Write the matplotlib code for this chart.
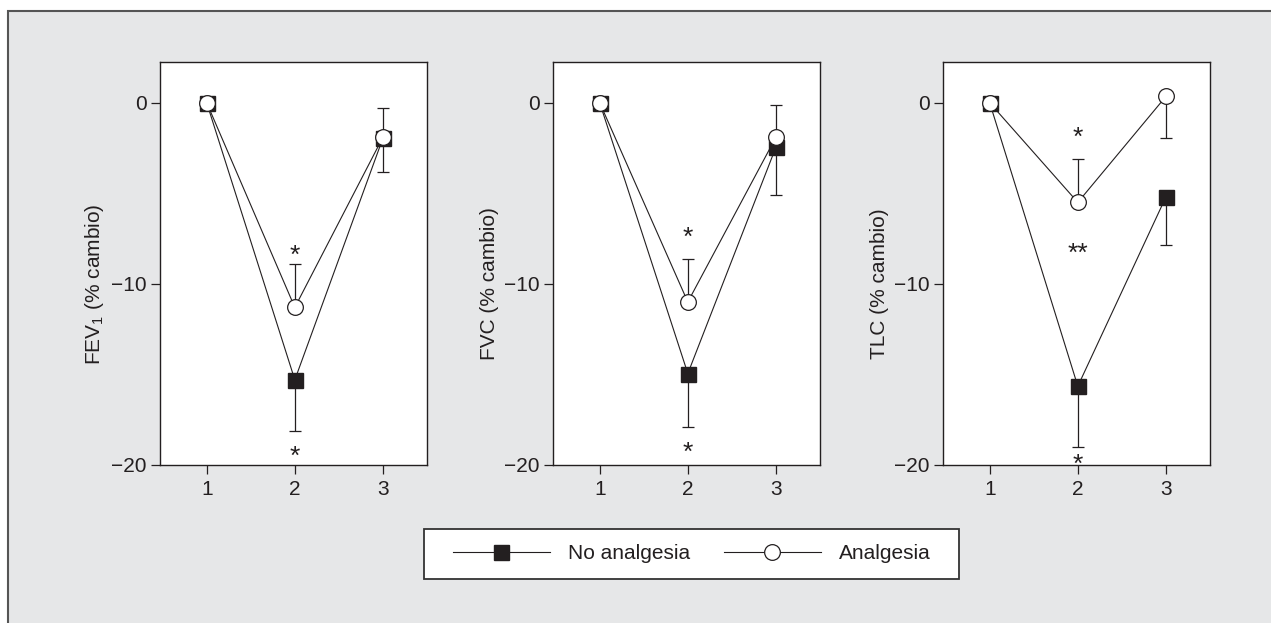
import numpy as np
import matplotlib
matplotlib.use("Agg")
import matplotlib.pyplot as plt
import matplotlib.transforms as mtransforms
from matplotlib.patches import Rectangle
from matplotlib.lines import Line2D

plt.rcParams['font.family'] = ['Liberation Sans', 'DejaVu Sans']
plt.rcParams['mathtext.fontset'] = 'custom'
plt.rcParams['mathtext.rm'] = 'Liberation Sans'
plt.rcParams['axes.unicode_minus'] = True

# Data
x = [1, 2, 3]
titles = ['FEV$_\\mathregular{1}$ (% cambio)', 'FVC (% cambio)', 'TLC (% cambio)']

# No analgesia (filled squares), error bars pointing down
fev1_no = [0, -15.3, -1.95]
fvc_no = [0, -14.95, -2.45]
tlc_no = [0, -15.65, -5.2]
fev1_no_err = [0, 2.8, 1.85]
fvc_no_err = [0, 2.95, 2.65]
tlc_no_err = [0, 3.35, 2.65]

# Analgesia (open circles)
fev1_an = [0, -11.3, -1.9]
fvc_an = [0, -11.0, -1.9]
tlc_an = [0, -5.5, 0.35]
fev1_an_up = [0, 2.4, 1.6]
fvc_an_up = [0, 2.4, 1.8]
tlc_an_up = [0, 2.4, 0]
fev1_an_down = [0, 0, 0]
fvc_an_down = [0, 0, 0]
tlc_an_down = [0, 0, 2.3]

# significance marks: (x, y, text)
fev1_marks = [(2, -8.0, '*'), (2, -19.1, '*')]
fvc_marks = [(2, -7.0, '*'), (2, -18.9, '*')]
tlc_marks = [(2, -1.5, '*'), (2, -7.9, '**'), (2, -19.55, '*')]

ink = '#231f20'
bg = '#e6e7e8'
fs = 15
star_fs = 19

W, H = 1271, 623
fig = plt.figure(figsize=(W / 100, H / 100), dpi=100)
fig.patch.set_facecolor('white')

# grey frame behind everything
fig.add_artist(Rectangle((8 / W, -0.2), 1.2, 1.2 - 10.7 / H, transform=fig.transFigure,
                         facecolor=bg, edgecolor='#555555', lw=1.5, zorder=-5))

panels = [
    (fev1_no, fev1_no_err, fev1_an, fev1_an_down, fev1_an_up, fev1_marks),
    (fvc_no, fvc_no_err, fvc_an, fvc_an_down, fvc_an_up, fvc_marks),
    (tlc_no, tlc_no_err, tlc_an, tlc_an_down, tlc_an_up, tlc_marks),
]
lefts = [160, 553, 943]

for left, title, (no, no_err, an, an_lo, an_hi, marks) in zip(lefts, titles, panels):
    ax = fig.add_axes([left / W, 1 - 465 / H, 267 / W, 403 / H])
    ax.set_facecolor('white')

    ax.errorbar(x, no, yerr=[no_err, [0, 0, 0]], fmt='-', color=ink, lw=0.8,
                marker='s', ms=10.8, mfc=ink, mec=ink, capsize=4.6, elinewidth=0.9,
                capthick=0.9, zorder=3)
    ax.errorbar(x, an, yerr=[an_lo, an_hi], fmt='-', color=ink, lw=0.8,
                marker='o', ms=11.3, mfc='white', mec=ink, mew=0.9, capsize=4.6,
                elinewidth=0.9, capthick=0.9, zorder=4)

    trans = mtransforms.offset_copy(ax.transData, fig=fig, y=-0.57 * star_fs, units='points')
    for mx, my, txt in marks:
        ax.text(mx, my, txt, transform=trans, ha='center', va='baseline',
                fontsize=star_fs, color=ink)

    ax.set_xlim(0.47, 3.5)
    ax.set_ylim(-20, 2.25)
    ax.set_xticks([1, 2, 3])
    ax.set_yticks([0, -10, -20])
    ax.tick_params(direction='out', length=6.5, width=0.9, color=ink,
                   labelsize=fs, labelcolor=ink, pad=3,
                   top=False, right=False)
    ax.tick_params(axis='x', pad=4)
    for sp in ax.spines.values():
        sp.set_color(ink)
        sp.set_linewidth(1.0)
    ax.set_ylabel(title, fontsize=fs, color=ink, labelpad=4, y=0.449)

# legend
fig.add_artist(Rectangle((424 / W, 1 - 578.5 / H), 535 / W, 49.5 / H,
                         transform=fig.transFigure, facecolor='white',
                         edgecolor='#333333', lw=1.3, zorder=1))
handles = [
    Line2D([], [], color=ink, lw=0.8, marker='s', ms=10.8, mfc=ink, mec=ink),
    Line2D([], [], color=ink, lw=0.8, marker='o', ms=11.3, mfc='white', mec=ink, mew=0.9),
]
leg = fig.legend(handles, ['No analgesia', 'Analgesia'], loc='center',
                 bbox_to_anchor=(691.5 / W, 1 - 553.7 / H), ncol=2, frameon=False,
                 fontsize=fs, handlelength=4.65, handletextpad=0.86,
                 columnspacing=1.63, borderpad=0)
for t in leg.get_texts():
    t.set_color(ink)
leg.set_zorder(2)

fig.savefig('out.png', dpi=100)
